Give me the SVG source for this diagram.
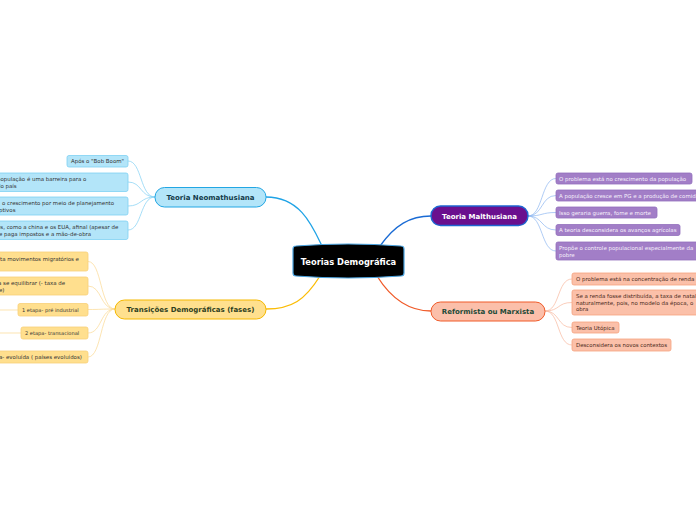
<svg xmlns="http://www.w3.org/2000/svg" width="696" height="520" viewBox="0 0 696 520">
<style>
text{font-family:"DejaVu Sans","Verdana",sans-serif}
.main{font-size:7px;font-weight:bold;text-anchor:middle}
.sub{font-size:5.45px}
.sm{font-size:5.1px}
.c{fill:none}
.neo{fill:#b3e5f9;stroke:#7fd0f3;stroke-width:0.8}
.tr{fill:#ffdf8e;stroke:#f8cf78;stroke-width:0.8}
.ma{fill:#a27ec7;stroke:#9270bd;stroke-width:0.8}
.re{fill:#fbc0a9;stroke:#f6a27f;stroke-width:0.8}
</style>
<rect width="696" height="520" fill="#ffffff"/>
<g id="connectors" class="c">
<path d="M266,197 C300,197 312,225 322,246" stroke="#1fa3e6" stroke-width="1.3"/>
<path d="M380,246 C395,225 410,216 431,216" stroke="#1a6bd4" stroke-width="1.3"/>
<path d="M377,276 C392,300 410,311 431,311" stroke="#f05a28" stroke-width="1.3"/>
<path d="M320,276 C305,300 292,309 266,309" stroke="#fbbc05" stroke-width="1.3"/>
<g stroke="#7fd0f3" stroke-width="0.7">
<path d="M155,197 C140,197 142,161 128,161"/>
<path d="M155,197 C140,197 142,182 128,182"/>
<path d="M155,197 C140,197 142,206 128,206"/>
<path d="M155,197 C140,197 142,230 128,230"/>
</g>
<g stroke="#fbd890" stroke-width="0.7">
<path d="M115,309 C100,309 102,261.5 88,261.5"/>
<path d="M115,309 C100,309 102,286 88,286"/>
<path d="M115,309 C100,309 102,309.5 88,309.5"/>
<path d="M115,309 C100,309 102,333 88,333"/>
<path d="M115,309 C100,309 102,357 88,357"/>
<path d="M0,310 L18,310"/>
<path d="M0,333 L21,333"/>
</g>
<g stroke="#8db6f0" stroke-width="0.7">
<path d="M528,216 C543,216 541,178.5 556,178.5"/>
<path d="M528,216 C543,216 541,195.5 556,195.5"/>
<path d="M528,216 C543,216 541,212.5 556,212.5"/>
<path d="M528,216 C543,216 541,230 556,230"/>
<path d="M528,216 C543,216 541,251 556,251"/>
</g>
<g stroke="#f8b89e" stroke-width="0.7">
<path d="M545,311 C560,311 557,279 572,279"/>
<path d="M545,311 C560,311 557,302.5 572,302.5"/>
<path d="M545,311 C560,311 557,327.5 572,327.5"/>
<path d="M545,311 C560,311 557,345 572,345"/>
</g>
</g>
<g id="center">
<path d="M293,249 Q293,246 296,246 Q348,242 401,246 Q404,246 404,249 L404,273 Q404,276 401,276 Q348,280 296,276 Q293,276 293,273 Z" fill="#000000" stroke="#4aa3df" stroke-width="1.2"/>
<text x="348.5" y="264.5" class="main" style="font-size:8.3px" fill="#ffffff">Teorias Demográfica</text>
</g>
<g id="neomathusiana">
<rect x="155" y="187.5" width="111" height="19.5" rx="9.5" fill="#b3e5f9" stroke="#22a6e3" stroke-width="1"/>
<text x="210.5" y="199.5" class="main" fill="#133b4a">Teoria Neomathusiana</text>
</g>
<g id="neo1"><rect x="67" y="155.5" width="61" height="11.5" rx="2" class="neo"/><text x="71" y="163" class="sub" fill="#333">Após o "Bob Boom"</text></g>
<g id="neo2"><rect x="-5" y="173" width="133" height="18.5" rx="2" class="neo"/><text x="-3" y="180.5" class="sub" fill="#333">população é uma barreira para o</text><text x="-3" y="187.5" class="sub" fill="#333">do país</text></g>
<g id="neo3"><rect x="-5" y="197" width="133" height="18" rx="2" class="neo"/><text x="2" y="204.5" class="sub" fill="#333">o crescimento por meio de planejamento</text><text x="-1" y="211.5" class="sub" fill="#333">ptivos</text></g>
<g id="neo4"><rect x="-5" y="221" width="133" height="18.5" rx="2" class="neo"/><text x="-3" y="228.5" class="sub" fill="#333">es, como a china e os EUA, afinal (apesar de</text><text x="-1" y="235.5" class="sub" fill="#333">e paga impostos e a mão-de-obra</text></g>
<g id="transicoes">
<rect x="115" y="300" width="151" height="19" rx="9.5" fill="#ffe08e" stroke="#f5b800" stroke-width="1"/>
<text x="190.5" y="311.5" class="main" fill="#2f3f1f">Transições Demográficas (fases)</text>
</g>
<g id="tr1"><rect x="-5" y="252" width="93" height="19" rx="2" class="tr"/><text x="0" y="261" class="sub" fill="#333">ta movimentos migratórios e</text></g>
<g id="tr2"><rect x="-5" y="277" width="93" height="18" rx="2" class="tr"/><text x="-2" y="284.5" class="sub" fill="#333">a se equilibrar (- taxa de</text><text x="-1" y="291.5" class="sub" fill="#333">e)</text></g>
<g id="tr3"><rect x="18" y="303.5" width="70" height="12.5" rx="2" class="tr"/><text x="22" y="311.5" class="sm" fill="#333">1 etapa- pré industrial</text></g>
<g id="tr4"><rect x="21" y="327" width="67" height="12" rx="2" class="tr"/><text x="25" y="334.8" class="sm" fill="#333">2 etapa- transacional</text></g>
<g id="tr5"><rect x="-5" y="351" width="93" height="12" rx="2" class="tr"/><text x="-1" y="358.8" class="sub" fill="#333">a- evoluída ( países evoluídos)</text></g>
<g id="malthusiana">
<rect x="431" y="206" width="97" height="19.5" rx="9.5" fill="#6a0f8e" stroke="#1f66d1" stroke-width="1.4"/>
<text x="479.5" y="218.5" class="main" fill="#ffffff">Teoria Malthusiana</text>
</g>
<g id="ma1"><rect x="556" y="173" width="136" height="11" rx="2" class="ma"/><text x="559" y="180.5" class="sub" fill="#f6f0fb">O problema está no crescimento da população</text></g>
<g id="ma2"><rect x="556" y="190" width="150" height="11" rx="2" class="ma"/><text x="559" y="197.5" class="sub" fill="#f6f0fb">A população cresce em PG e a produção de comida</text></g>
<g id="ma3"><rect x="556" y="207" width="101" height="11" rx="2" class="ma"/><text x="559" y="214.5" class="sub" fill="#f6f0fb">Isso geraria guerra, fome e morte</text></g>
<g id="ma4"><rect x="556" y="224.5" width="124" height="11" rx="2" class="ma"/><text x="559" y="232" class="sub" fill="#f6f0fb">A teoria desconsidera os avanços agrícolas</text></g>
<g id="ma5"><rect x="556" y="242" width="150" height="18" rx="2" class="ma"/><text x="559" y="249.5" class="sub" fill="#f6f0fb">Propõe o controle populacional especialmente da</text><text x="559" y="256.5" class="sub" fill="#f6f0fb">pobre</text></g>
<g id="reformista">
<rect x="431" y="302" width="114" height="19" rx="9.5" fill="#fbbfaa" stroke="#f05a28" stroke-width="1"/>
<text x="488" y="314" class="main" fill="#1c4a38">Reformista ou Marxista</text>
</g>
<g id="re1"><rect x="572" y="273" width="130" height="12" rx="2" class="re"/><text x="576" y="280.8" class="sub" fill="#4a2a20">O problema está na concentração de renda</text></g>
<g id="re2"><rect x="572" y="290" width="130" height="25" rx="2" class="re"/><text x="576" y="297.8" class="sub" fill="#4a2a20">Se a renda fosse distribuída, a taxa de natalidade</text><text x="576" y="304.5" class="sub" fill="#4a2a20">naturalmente, pois, no modelo da época, o</text><text x="576" y="311.3" class="sub" fill="#4a2a20">obra</text></g>
<g id="re3"><rect x="572" y="322" width="47" height="11" rx="2" class="re"/><text x="576" y="329.5" class="sub" fill="#4a2a20">Teoria Utópica</text></g>
<g id="re4"><rect x="572" y="339" width="99" height="12" rx="2" class="re"/><text x="576" y="346.8" class="sub" fill="#4a2a20">Desconsidera os novos contextos</text></g>
</svg>
